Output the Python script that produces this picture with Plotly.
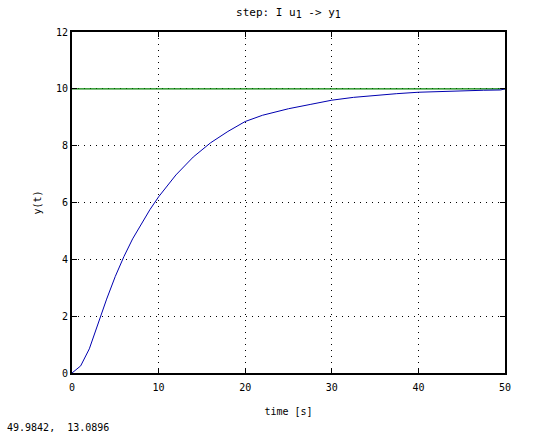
import plotly.graph_objects as go

# step response
t = [0, 1, 2, 3, 4, 5, 6, 7, 8, 9, 10, 12, 14, 16, 18, 20, 22, 25,
     27.5, 30, 32.5, 35, 37.5, 40, 42.5, 45, 47.5, 49.5, 50]
y = [0, 0.25, 0.85, 1.75, 2.6, 3.4, 4.1, 4.72, 5.25, 5.75, 6.2, 6.97,
     7.6, 8.1, 8.5, 8.85, 9.07, 9.3, 9.45, 9.6, 9.7, 9.77, 9.83, 9.88,
     9.91, 9.93, 9.95, 9.96, 10.0]

# final value line
ref_t = [0, 50]
ref_y = [10, 10]

x_ticks = [0, 10, 20, 30, 40, 50]
y_ticks = [0, 2, 4, 6, 8, 10, 12]

font = dict(family="DejaVu Sans Mono", size=10, color="black")

fig = go.Figure()
fig.add_trace(go.Scatter(x=ref_t, y=ref_y, mode="lines",
                         line=dict(color="#008000", width=1.2)))
fig.add_trace(go.Scatter(x=t, y=y, mode="lines",
                         line=dict(color="#0000b0", width=1)))

axis = dict(showline=True, linecolor="black", linewidth=2, mirror="allticks",
            ticks="inside", ticklen=5, tickwidth=1, tickcolor="black",
            showgrid=True, gridcolor="black", gridwidth=1, griddash="1px,5px",
            zeroline=False, tickfont=font)

fig.update_xaxes(range=[0, 50], tickvals=x_ticks, ticklabelstandoff=4,
                 title=dict(text="time [s]", font=font, standoff=16), **axis)
fig.update_yaxes(range=[0, 12], tickvals=y_ticks,
                 title=dict(text="y(t)", font=font, standoff=12), **axis)

sub1 = "<sub><span style='font-size:10px'>1</span></sub>"
fig.update_layout(
    width=560, height=433,
    margin=dict(l=72, r=55, t=32, b=60),
    plot_bgcolor="white", paper_bgcolor="white",
    showlegend=False,
    title=dict(text=f"step: I u{sub1} -> y{sub1}",
               font=dict(family="DejaVu Sans Mono", size=11, color="black"),
               x=(288.5 / 560), xanchor="center", y=0.972, yanchor="middle"),
    annotations=[dict(text="49.9842,  13.0896", xref="paper", yref="paper",
                      x=-67 / 433, y=-54 / 341, xanchor="left", yanchor="middle",
                      showarrow=False, font=font)],
)

# drop the page margin so the figure sits at the window corner
fig.write_html("out.html", config={"displayModeBar": False},
               post_script="document.body.style.margin='0';")
